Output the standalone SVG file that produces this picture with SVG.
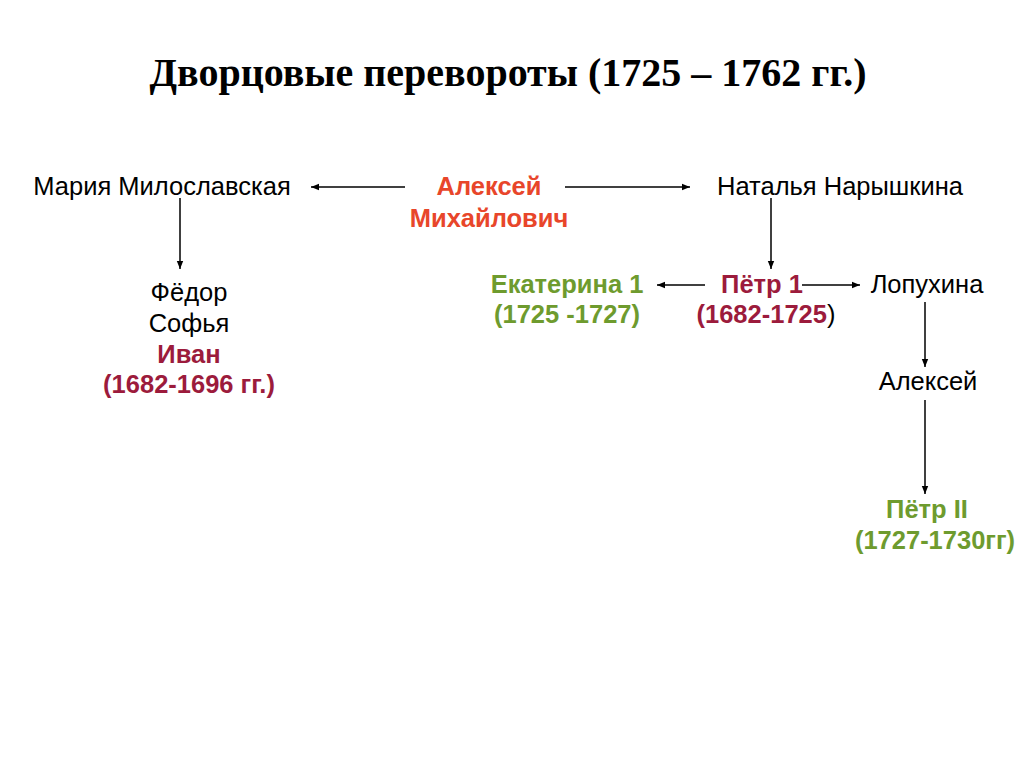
<svg xmlns="http://www.w3.org/2000/svg" width="1024" height="767" viewBox="0 0 1024 767">
<defs>
<marker id="ah" viewBox="0 0 10 10" refX="10" refY="5" markerWidth="8" markerHeight="8" markerUnits="userSpaceOnUse" orient="auto"><path d="M0,1 L10,5 L0,9 Z" fill="#000"/></marker>
<style>
.t{font-family:"Liberation Sans",Arial,sans-serif;font-size:25.5px;text-anchor:middle;fill:#000}
.b{font-weight:bold}
.red{fill:#E8462A}
.cr{fill:#9C1B3C}
.gr{fill:#6E9B2E}
.c line{stroke:#000;stroke-width:1.5;marker-end:url(#ah)}
</style>
</defs>
<rect width="1024" height="767" fill="#fff"/>
<text x="508" y="86" font-family="Liberation Serif,Times New Roman,serif" font-size="40" font-weight="bold" text-anchor="middle">Дворцовые перевороты (1725 – 1762 гг.)</text>
<g class="c">
<line x1="405" y1="187" x2="311" y2="187"/>
<line x1="565" y1="187" x2="690" y2="187"/>
<line x1="180" y1="198" x2="180" y2="269"/>
<line x1="771" y1="198" x2="771" y2="269"/>
<line x1="705" y1="285" x2="657" y2="285"/>
<line x1="802" y1="285" x2="860" y2="285"/>
<line x1="925" y1="302" x2="925" y2="367"/>
<line x1="925" y1="400" x2="925" y2="494"/>
</g>
<g id="maria"><text class="t" x="162" y="195">Мария Милославская</text></g>
<g id="aleksey-m"><text class="t b red" x="489" y="195">Алексей</text><text class="t b red" x="489" y="227">Михайлович</text></g>
<g id="natalya"><text class="t" x="840" y="195">Наталья Нарышкина</text></g>
<g id="children"><text class="t" x="189" y="301">Фёдор</text><text class="t" x="189" y="332">Софья</text><text class="t b cr" x="189" y="363">Иван</text><text class="t b cr" x="189" y="393">(1682-1696 гг.)</text></g>
<g id="ekaterina"><text class="t b gr" x="567" y="293">Екатерина 1</text><text class="t b gr" x="567" y="323">(1725 -1727)</text></g>
<g id="petr1"><text class="t b cr" x="762" y="293">Пётр 1</text><text class="t b cr" x="766" y="323">(1682-1725<tspan fill="#000" font-weight="normal">)</tspan></text></g>
<g id="lopukhina"><text class="t" x="927" y="293">Лопухина</text></g>
<g id="aleksey"><text class="t" x="928" y="390">Алексей</text></g>
<g id="petr2"><text class="t b gr" x="927" y="518">Пётр II</text><text class="t b gr" x="935" y="549">(1727-1730гг)</text></g>
</svg>
